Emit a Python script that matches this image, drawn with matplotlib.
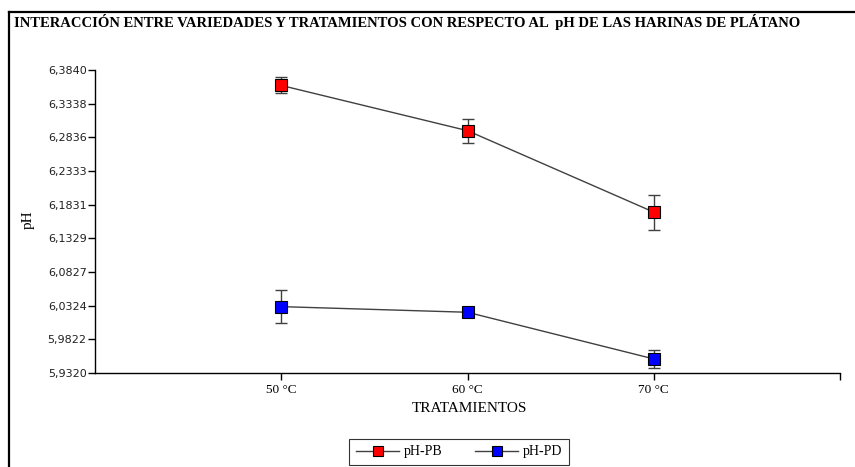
import numpy as np
import matplotlib
matplotlib.use("Agg")
import matplotlib.pyplot as plt
from matplotlib.lines import Line2D

# pH means and standard errors per drying temperature
temps = ["50 °C", "60 °C", "70 °C"]
ph_pb = [6.361, 6.2935, 6.172]
err_pb = [0.012, 0.018, 0.026]
ph_pd = [6.031, 6.0226, 5.953]
err_pd = [0.025, 0.003, 0.013]

ytick_vals = [5.9320, 5.9822, 6.0324, 6.0827, 6.1329, 6.1831, 6.2333, 6.2836, 6.3338, 6.3840]
ytick_labels = ["5,9320", "5,9822", "6,0324", "6,0827", "6,1329",
                "6,1831", "6,2333", "6,2836", "6,3338", "6,3840"]

W, H = 855, 467
fig = plt.figure(figsize=(W / 100, H / 100), dpi=100)
fig.patch.set_facecolor("white")

serif = ["Liberation Serif", "DejaVu Serif"]

# outer frame: left and top edges only
fig.add_artist(Line2D([9 / W, 9 / W], [0, 1 - 12 / H], color="black", lw=1.6))
fig.add_artist(Line2D([9 / W, 1], [1 - 12 / H, 1 - 12 / H], color="black", lw=1.6))

fig.text(14 / W, 1 - 22 / H,
         "INTERACCIÓN ENTRE VARIEDADES Y TRATAMIENTOS CON RESPECTO AL  pH DE LAS HARINAS DE PLÁTANO",
         family=serif, fontweight="bold", fontsize=10.5, va="center", ha="left")

ax = fig.add_axes([95 / W, 1 - 373 / H, (840 - 95) / W, (373 - 70) / H])
x = np.arange(1, len(temps) + 1)

line_col = "#404040"
for vals, errs, col, lab in [(ph_pb, err_pb, "#ff0000", "pH-PB"),
                             (ph_pd, err_pd, "#0000ff", "pH-PD")]:
    ax.errorbar(x, vals, yerr=errs, fmt="none", ecolor=line_col,
                elinewidth=1.0, capsize=4.3, capthick=1.0, zorder=2)
    ax.plot(x, vals, color=line_col, lw=1.0, marker="s", markersize=8,
            markerfacecolor=col, markeredgecolor="black", markeredgewidth=0.8,
            label=lab, zorder=3)

ax.set_xlim(0, 4)
ax.set_ylim(5.932, 6.384)
ax.set_yticks(ytick_vals)
ax.set_yticklabels(ytick_labels, fontsize=8, family="DejaVu Sans", color="#202020")
ax.set_xticks([1, 2, 3, 4])
ax.set_xticklabels(temps + [""], fontsize=9.5, family=serif)
ax.tick_params(axis="both", direction="out", length=5, width=1.0, color="black")
ax.tick_params(axis="y", pad=1)
ax.tick_params(axis="x", pad=3)

for s in ["top", "right"]:
    ax.spines[s].set_visible(False)
for s in ["left", "bottom"]:
    ax.spines[s].set_linewidth(1.0)

fig.text(469 / W, 1 - 409 / H, "TRATAMIENTOS", family=serif, fontsize=11,
         ha="center", va="center")
fig.text(28 / W, 1 - 220 / H, "pH", family=serif, fontsize=11,
         ha="center", va="center", rotation=90)

leg = fig.legend(loc="center", bbox_to_anchor=(459 / W, 1 - 452 / H), ncol=2,
                 frameon=True, fancybox=False, edgecolor="black",
                 prop={"family": serif, "size": 10}, handlelength=3.1,
                 handletextpad=0.3, columnspacing=2.4, borderpad=0.5,
                 markerscale=0.9)
leg.get_frame().set_linewidth(0.8)

fig.savefig("out.png", dpi=100, facecolor="white")
